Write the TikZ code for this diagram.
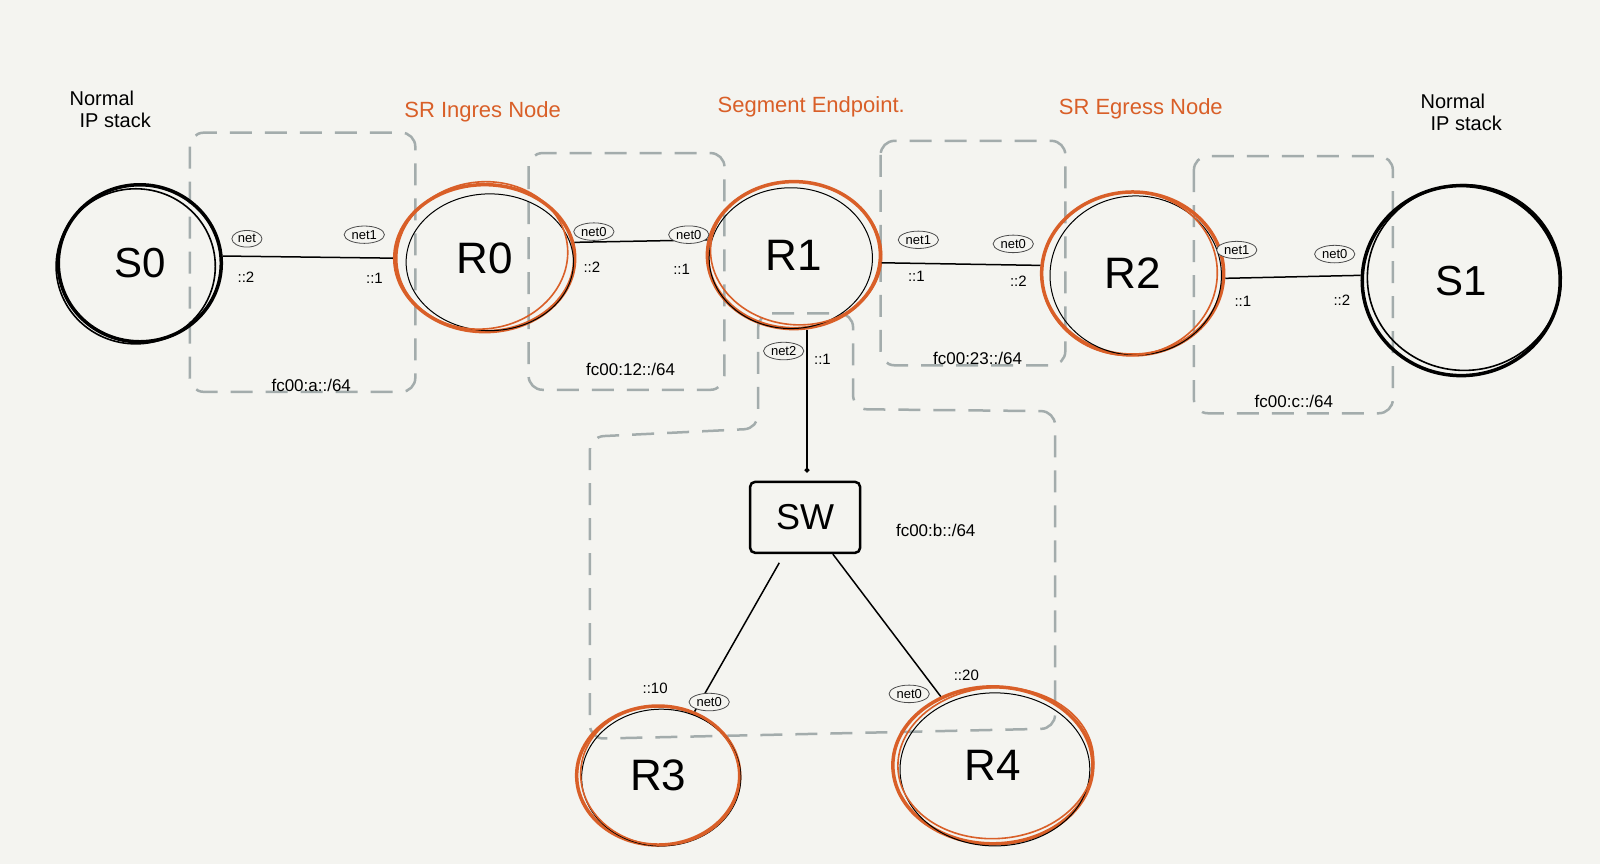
\documentclass[tikz,border=0pt]{standalone}
\usepackage{fontspec}
\setmainfont{Liberation Sans}
\usetikzlibrary{shapes.geometric,arrows.meta}
\definecolor{bg}{HTML}{F4F4F0}
\definecolor{srorange}{HTML}{D95F28}
\definecolor{dashgray}{HTML}{A3ACAC}
\begin{document}
\begin{tikzpicture}[x=1.0204pt,y=-1.0204pt,
  host/.style={ellipse, draw=black, line width=3.5pt, inner sep=0pt, font=\fontsize{42}{44}\selectfont},
  router/.style={ellipse, draw=srorange, line width=3.5pt, inner sep=0pt, font=\fontsize{44}{46}\selectfont},
  inner/.style={draw=black, line width=1pt},
  outer/.style={draw=srorange, line width=1.6pt},
  switchbox/.style={rectangle, draw=black, line width=2.5pt, rounded corners=5pt, font=\fontsize{36}{38}\selectfont},
  iface/.style={ellipse, draw=black!70, line width=0.8pt, fill=bg, inner sep=1.6pt, font=\fontsize{13}{13}\selectfont},
  addr/.style={font=\fontsize{15}{15}\selectfont},
  subnet/.style={font=\fontsize{17}{17}\selectfont},
  role/.style={text=srorange, font=\fontsize{22}{22}\selectfont},
  note/.style={align=left, font=\fontsize{20}{22}\selectfont},
  zone/.style={draw=dashgray, line width=2.5pt, dash pattern=on 22pt off 13pt, rounded corners=14pt},
  link/.style={draw=black, line width=1.5pt}]
\fill[bg] (0,0) rectangle (1568,847);
\useasboundingbox (0,0) rectangle (1568,847);

% subnet zones
\draw[zone] (186,130) rectangle (407,384);
\draw[zone] (518,150) rectangle (710,382);
\draw[zone] (863,138) rectangle (1044,358);
\draw[zone] (1170,153) rectangle (1365,405);
\draw[zone] (743,307) -- (836,307) -- (836,401) -- (1034,403) -- (1034,714) -- (578,724) -- (578,428) -- (743,420) -- cycle;

% role labels
\node[note] (nl) at (108,107) {Normal\\\hspace{10pt}IP stack};
\node[note] (nr) at (1432,110) {Normal\\\hspace{10pt}IP stack};
\node[role] (ing) at (473,110) {SR Ingres Node};
\node[role] (sep) at (795,105) {Segment Endpoint.};
\node[role] (egr) at (1118,107) {SR Egress Node};

% nodes
\node[host, minimum width=163pt, minimum height=157pt] (S0) at (137,258) {S0};
\node[router, minimum width=180pt, minimum height=147pt] (R0) at (475,253) {R0};
\node[router, minimum width=173pt, minimum height=147pt] (R1) at (778,250) {R1};
\node[router, minimum width=182pt, minimum height=163pt] (R2) at (1110,268) {R2};
\node[host, minimum width=198pt, minimum height=190pt] (S1) at (1432,275) {S1};
\node[switchbox, minimum width=110pt, minimum height=71pt] (SW) at (789,507) {SW};
\node[router, minimum width=163pt, minimum height=139pt] (R3) at (645,760) {R3};
\node[router, minimum width=200pt, minimum height=157pt] (R4) at (973,750) {R4};

% sketchy outlines
\draw[inner] ([shift={(5,4)}]R0.center) ellipse [x radius=82, y radius=67];
\draw[inner] ([shift={(-3,3)}]R1.center) ellipse [x radius=80, y radius=69];
\draw[inner] ([shift={(3,2)}]R2.center) ellipse [x radius=84, y radius=78];
\draw[inner] ([shift={(3,2)}]R3.center) ellipse [x radius=78, y radius=67];
\draw[inner] ([shift={(2,4)}]R4.center) ellipse [x radius=93, y radius=75];
\draw[outer, rotate around={8:(R0.center)}] ([shift={(-2,-3)}]R0.center) ellipse [x radius=84, y radius=72];
\draw[outer, rotate around={-6:(R1.center)}] ([shift={(2,-2)}]R1.center) ellipse [x radius=84, y radius=70];
\draw[outer, rotate around={5:(R2.center)}] ([shift={(-3,0)}]R2.center) ellipse [x radius=86, y radius=80];
\draw[outer, rotate around={-5:(R3.center)}] ([shift={(2,0)}]R3.center) ellipse [x radius=78, y radius=68];
\draw[outer, rotate around={4:(R4.center)}] ([shift={(3,-2)}]R4.center) ellipse [x radius=96, y radius=74];
\draw[black, line width=1.6pt] ([shift={(-4,3)}]S0.center) ellipse [x radius=78, y radius=76];
\draw[black, line width=1.6pt] ([shift={(3,-3)}]S1.center) ellipse [x radius=95, y radius=91];

% links
\draw[link] (S0.5) -- (R0.180);
\draw[link] (R0.10) -- (R1.170);
\draw[link] (R1.-5) -- (R2.175);
\draw[link] (R2.-3) -- (S1.177);
\draw[link, -{Circle[length=5pt]}, shorten >=8pt] (R1.-80) -- (R1.-80 |- SW.north);
\draw[link, shorten <=10pt] (SW) -- (R3);
\draw[link] (SW) -- (R4);

% interface labels
\node[iface] (i1) at (242,234) {net};
\node[iface] (i2) at (357,230) {net1};
\node[iface] (i3) at (582,227) {net0};
\node[iface] (i4) at (675,230) {net0};
\node[iface] (i5) at (900,235) {net1};
\node[iface] (i6) at (993,239) {net0};
\node[iface] (i7) at (1212,245) {net1};
\node[iface] (i8) at (1308,249) {net0};
\node[iface] (i9) at (768,344) {net2};
\node[iface] (i10) at (695,688) {net0};
\node[iface] (i11) at (891,680) {net0};

% addresses
\node[addr] (a1) at (241,272) {::2};
\node[addr] (a2) at (367,273) {::1};
\node[addr] (a3) at (580,262) {::2};
\node[addr] (a4) at (668,264) {::1};
\node[addr] (a5) at (898,271) {::1};
\node[addr] (a6) at (998,276) {::2};
\node[addr] (a7) at (1218,295) {::1};
\node[addr] (a8) at (1315,294) {::2};
\node[addr] (a9) at (806,352) {::1};
\node[addr] (a10) at (642,675) {::10};
\node[addr] (a11) at (947,662) {::20};

% subnets
\node[subnet] (n1) at (305,378) {fc00:a::/64};
\node[subnet] (n2) at (618,362) {fc00:12::/64};
\node[subnet] (n3) at (958,351) {fc00:23::/64};
\node[subnet] (n4) at (1268,393) {fc00:c::/64};
\node[subnet] (n5) at (917,520) {fc00:b::/64};
\end{tikzpicture}
\end{document}
